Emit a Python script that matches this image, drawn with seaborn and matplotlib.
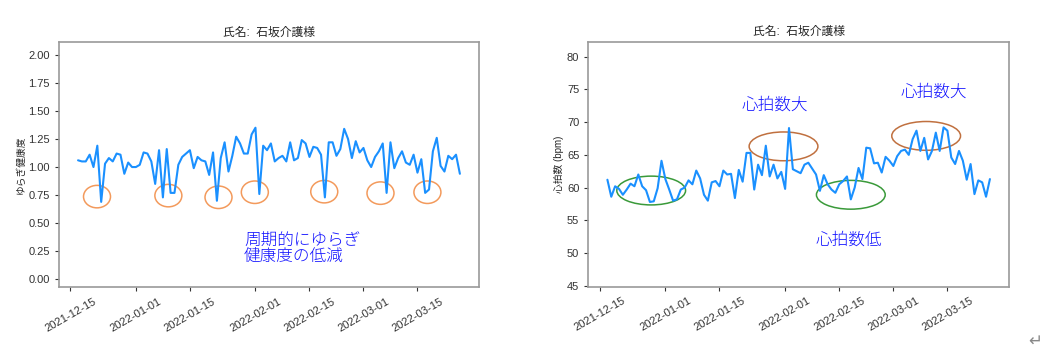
import pandas as pd
import seaborn as sns
import matplotlib.pyplot as plt
import matplotlib.dates as mdates
from matplotlib.patches import Ellipse

# daily values, 2021-12-17 .. 2022-03-26
dates = pd.date_range('2021-12-17', periods=100, freq='D')

yuragi = [1.06, 1.05, 1.05, 1.11, 1.00, 1.19, 0.69, 1.03, 1.08, 1.05,
          1.12, 1.11, 0.94, 1.04, 1.00, 1.00, 1.02, 1.13, 1.12, 1.05,
          0.85, 1.15, 0.73, 1.16, 0.77, 0.77, 1.02, 1.09, 1.12, 1.15,
          0.99, 1.09, 1.06, 1.05, 0.93, 1.13, 0.70, 1.08, 1.22, 0.96,
          1.10, 1.27, 1.21, 1.12, 1.12, 1.29, 1.35, 0.76, 1.19, 1.15,
          1.21, 1.05, 1.08, 1.10, 1.05, 1.22, 1.06, 1.08, 1.24, 1.21,
          1.09, 1.18, 1.17, 1.11, 0.73, 1.22, 1.22, 1.10, 1.16, 1.34,
          1.25, 1.08, 1.23, 1.13, 1.17, 1.06, 1.00, 1.09, 1.14, 1.21,
          0.77, 1.22, 0.99, 1.08, 1.14, 1.04, 1.02, 1.11, 0.95, 1.07,
          0.77, 0.80, 1.14, 1.26, 1.01, 0.96, 1.10, 1.07, 1.11, 0.94]

heart = [61.2, 58.6, 60.2, 59.8, 58.9, 59.7, 60.6, 60.2, 62.0, 60.2,
         59.6, 57.8, 57.9, 59.9, 64.1, 61.3, 59.7, 58.0, 58.2, 59.7,
         60.0, 61.1, 60.5, 62.6, 61.4, 58.9, 58.0, 60.8, 61.0, 60.2,
         62.6, 62.0, 62.1, 58.4, 62.7, 60.9, 65.3, 65.3, 59.7, 63.5,
         61.9, 66.4, 61.7, 63.5, 61.4, 62.4, 59.8, 69.1, 62.8, 62.5,
         62.2, 63.5, 63.8, 62.9, 62.0, 59.5, 61.9, 60.5, 59.7, 59.2,
         60.5, 61.0, 61.7, 58.2, 60.0, 63.0, 61.3, 66.1, 66.0, 63.7,
         63.8, 62.3, 64.7, 64.1, 63.3, 64.8, 65.6, 65.8, 65.0, 67.4,
         68.7, 65.6, 67.6, 64.3, 65.6, 68.4, 65.6, 69.2, 68.7, 64.6,
         63.6, 65.6, 64.1, 61.2, 63.6, 59.0, 61.1, 60.8, 58.6, 61.3]

title = '氏名:  石坂介護様'

# hand-drawn marks on the left chart (centre date, centre value)
dip_dates = ['2021-12-21 22:00', '2022-01-09 10:00', '2022-01-22 10:00',
             '2022-01-31 20:00', '2022-02-18 20:00', '2022-03-05 10:00',
             '2022-03-17 14:00']
dip_vals = [0.737, 0.746, 0.731, 0.776, 0.781, 0.768, 0.776]

# ellipses on the right chart
low_dates = ['2021-12-28 08:00', '2022-02-18']
low_vals = [59.55, 58.9]
high_dates = ['2022-01-31 14:00', '2022-03-09 12:00']
high_vals = [66.3, 67.9]

sns.set_style('ticks')
plt.rcParams['font.family'] = ['Liberation Sans', 'Noto Sans CJK JP', 'DejaVu Sans']
plt.rcParams['font.size'] = 8

line_color = '#1a90ff'
text_color = '#1010ff'
fig = plt.figure(figsize=(10.49, 3.59), dpi=100)
ax1 = fig.add_axes([0.0562, 0.1997, 0.4004, 0.6825])
ax2 = fig.add_axes([0.5608, 0.2014, 0.4011, 0.6825])

sns.lineplot(x=dates, y=yuragi, ax=ax1, color=line_color, linewidth=1.5)
sns.lineplot(x=dates, y=heart, ax=ax2, color=line_color, linewidth=1.5)

ax1.set_ylim(-0.07, 2.11)
ax1.set_yticks([0, 0.25, 0.5, 0.75, 1.0, 1.25, 1.5, 1.75, 2.0])
ax1.yaxis.set_major_formatter(plt.FormatStrFormatter('%.2f'))
ax1.set_ylabel('ゆらぎ健康度', fontsize=7, labelpad=2)
ax2.set_ylim(44.85, 82.3)
ax2.set_yticks([45, 50, 55, 60, 65, 70, 75, 80])
ax2.set_ylabel('心拍数 (bpm)', fontsize=7, labelpad=2)

for ax in (ax1, ax2):
    ax.set_xlabel('')
    ax.set_title(title, fontsize=8.5, pad=5)
    ax.xaxis.set_major_locator(mdates.DayLocator(bymonthday=[1, 15]))
    ax.xaxis.set_major_formatter(mdates.DateFormatter('%Y-%m-%d'))
    ax.tick_params(axis='x', rotation=30, labelsize=8, colors='#333333', length=3)
    ax.tick_params(axis='y', labelsize=8, colors='#333333', length=3)
    for s in ax.spines.values():
        s.set_color('#9a9a9a')
        s.set_linewidth(1.2)
    for lab in ax.get_xticklabels():
        lab.set_ha('center')

for d, v in zip(dip_dates, dip_vals):
    ax1.add_patch(Ellipse((mdates.date2num(pd.Timestamp(d)), v), 7.0, 0.2,
                          fill=False, edgecolor='#f39a5c', linewidth=1.1))
for d, v in zip(low_dates, low_vals):
    ax2.add_patch(Ellipse((mdates.date2num(pd.Timestamp(d)), v), 17.8, 4.4,
                          fill=False, edgecolor='#3a9a3a', linewidth=1.1))
for d, v in zip(high_dates, high_vals):
    ax2.add_patch(Ellipse((mdates.date2num(pd.Timestamp(d)), v), 17.8, 4.4,
                          fill=False, edgecolor='#c0703f', linewidth=1.1))

ax1.text(pd.Timestamp('2022-01-29'), 0.27, '周期的にゆらぎ\n健康度の低減',
         color=text_color, fontsize=12, fontweight='light', ha='left',
         va='center', linespacing=1.05)
ax2.text(pd.Timestamp('2022-01-20 20:00'), 72.7, '心拍数大', color=text_color,
         fontsize=12, fontweight='light', ha='left', va='center')
ax2.text(pd.Timestamp('2022-03-03'), 74.6, '心拍数大', color=text_color,
         fontsize=12, fontweight='light', ha='left', va='center')
ax2.text(pd.Timestamp('2022-02-09'), 52.0, '心拍数低', color=text_color,
         fontsize=12, fontweight='light', ha='left', va='center')

fig.text(0.987, 0.05, '↵', color='#888888', fontsize=12, ha='center',
         va='center', family=['DejaVu Sans'])

fig.savefig('out.png', dpi=100)
